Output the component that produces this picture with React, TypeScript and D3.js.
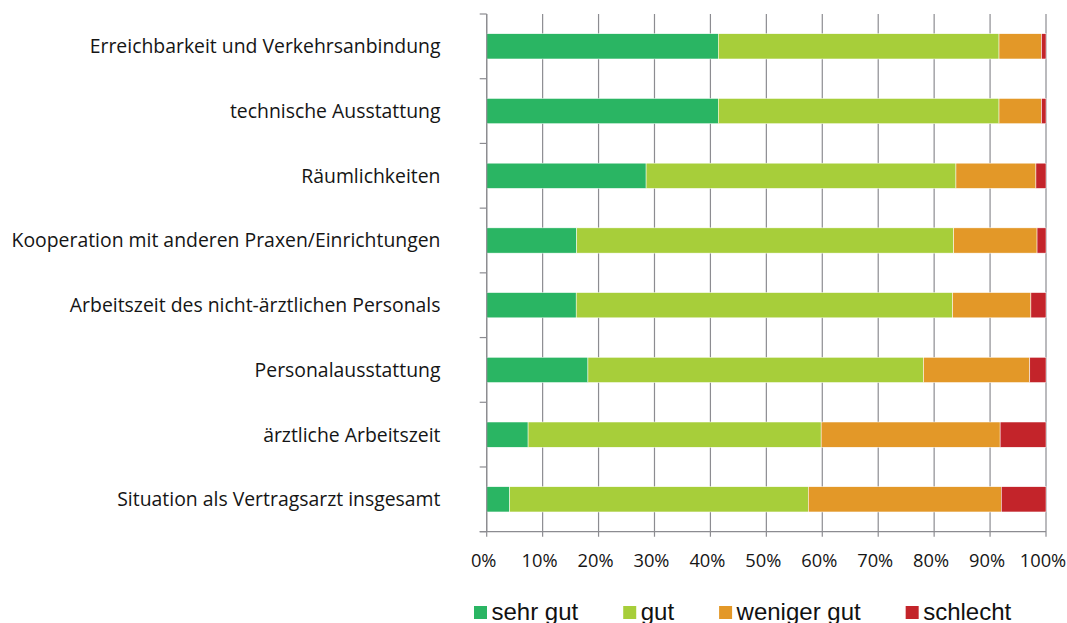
import * as d3 from 'd3'
import { useEffect, useRef } from 'react'

// categories, top to bottom
const categories = [
  'Erreichbarkeit und Verkehrsanbindung',
  'technische Ausstattung',
  'Räumlichkeiten',
  'Kooperation mit anderen Praxen/Einrichtungen',
  'Arbeitszeit des nicht-ärztlichen Personals',
  'Personalausstattung',
  'ärztliche Arbeitszeit',
  'Situation als Vertragsarzt insgesamt',
]

const seriesNames = ['sehr gut', 'gut', 'weniger gut', 'schlecht']
const seriesColors = ['#2ab563', '#a7ce3a', '#e39828', '#c3242a']

// shares in percent, one value per category
const sehrGut = [41.4, 41.4, 28.5, 16.1, 16.0, 18.1, 7.4, 4.1]
const gut = [50.2, 50.2, 55.4, 67.4, 67.3, 60.0, 52.4, 53.4]
const wenigerGut = [7.6, 7.6, 14.3, 14.9, 14.0, 19.0, 32.0, 34.5]
const schlecht = [0.8, 0.8, 1.8, 1.6, 2.7, 2.9, 8.2, 8.0]

const xTicks = [0, 10, 20, 30, 40, 50, 60, 70, 80, 90, 100]

const W = 1067
const H = 623

export default function App() {
  const svgRef = useRef(null)

  useEffect(() => {
    const svg = d3.select(svgRef.current)
    svg.selectAll('*').remove()

    const left = 486.7
    const right = 1046
    const top = 14
    const bottom = 531.7
    const gridColor = '#8c8c91'

    const rows = categories.map((c, i) => ({
      name: c,
      'sehr gut': sehrGut[i],
      gut: gut[i],
      'weniger gut': wenigerGut[i],
      schlecht: schlecht[i],
    }))

    const x = d3.scaleLinear().domain([0, 100]).range([left, right])
    const y = d3.scaleBand()
      .domain(categories)
      .range([top, bottom])
      .paddingInner(0.61)
      .paddingOuter(0.305)
    const color = d3.scaleOrdinal().domain(seriesNames).range(seriesColors)

    const stacked = d3.stack().keys(seriesNames)(rows)

    // vertical grid lines + bottom ticks
    svg.append('g')
      .selectAll('line')
      .data(xTicks)
      .join('line')
      .attr('x1', d => x(d))
      .attr('x2', d => x(d))
      .attr('y1', top)
      .attr('y2', bottom + 5)
      .attr('stroke', gridColor)
      .attr('stroke-width', 1.2)

    // bars
    svg.append('g')
      .selectAll('g')
      .data(stacked)
      .join('g')
      .attr('fill', d => color(d.key))
      .selectAll('rect')
      .data(d => d)
      .join('rect')
      .attr('x', d => x(d[0]))
      .attr('width', d => x(d[1]) - x(d[0]))
      .attr('y', d => y(d.data.name))
      .attr('height', y.bandwidth())
      .attr('stroke', '#ffffff')
      .attr('stroke-width', 0.5)

    // left axis line with ticks at band boundaries
    const step = y.step()
    const boundaries = d3.range(categories.length + 1).map(i => top + i * step)
    svg.append('line')
      .attr('x1', left).attr('x2', left)
      .attr('y1', top).attr('y2', bottom)
      .attr('stroke', gridColor).attr('stroke-width', 1.2)
    svg.append('g')
      .selectAll('line')
      .data(boundaries)
      .join('line')
      .attr('x1', left - 7).attr('x2', left)
      .attr('y1', d => d).attr('y2', d => d)
      .attr('stroke', gridColor).attr('stroke-width', 1.2)

    // bottom axis line
    svg.append('line')
      .attr('x1', left - 7).attr('x2', right)
      .attr('y1', bottom).attr('y2', bottom)
      .attr('stroke', gridColor).attr('stroke-width', 1.2)

    // category labels
    svg.append('g')
      .selectAll('text')
      .data(categories)
      .join('text')
      .attr('x', 440.5)
      .attr('y', d => y(d) + y.bandwidth() / 2)
      .attr('dy', '0.36em')
      .attr('text-anchor', 'end')
      .attr('font-family', 'Open Sans, sans-serif')
      .attr('font-size', 19.4)
      .attr('fill', '#151515')
      .text(d => d)

    // x tick labels
    svg.append('g')
      .selectAll('text')
      .data(xTicks)
      .join('text')
      .attr('x', d => x(d) - 3)
      .attr('y', 566.5)
      .attr('text-anchor', 'middle')
      .attr('font-family', 'Open Sans, sans-serif')
      .attr('font-size', 18.3)
      .attr('fill', '#151515')
      .text(d => d + '%')

    // legend
    const legend = svg.append('g')
    let lx = 474
    seriesNames.forEach((name) => {
      legend.append('rect')
        .attr('x', lx).attr('y', 606)
        .attr('width', 13).attr('height', 13)
        .attr('fill', color(name))
      const t = legend.append('text')
        .attr('x', lx + 17.5)
        .attr('y', 619.5)
        .attr('font-family', 'Liberation Sans, Arial, sans-serif')
        .attr('font-size', 24)
        .attr('fill', '#111')
        .text(name)
      const tw = t.node().getComputedTextLength()
      lx = lx + 17.5 + tw + 45
    })
  }, [])

  return (
    <svg
      ref={svgRef}
      width={W}
      height={H}
      style={{ position: 'fixed', left: 0, top: 0, background: '#fff' }}
    />
  )
}
